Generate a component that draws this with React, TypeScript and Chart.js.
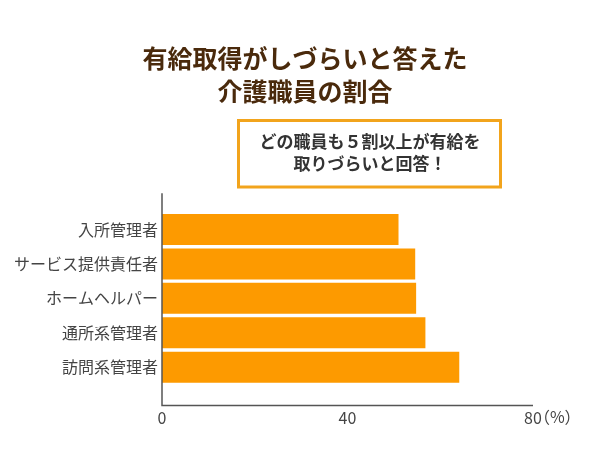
import React, { useEffect, useRef } from "react";
import { Chart, registerables } from "chart.js";

Chart.register(...registerables);

const titleLines = ["有給取得がしづらいと答えた", "介護職員の割合"];
const noteLines = ["どの職員も５割以上が有給を", "取りづらいと回答！"];
const categories = ["入所管理者", "サービス提供責任者", "ホームヘルパー", "通所系管理者", "訪問系管理者"];
const values = [51.0, 54.6, 54.8, 56.8, 64.1];
const xTicks = [0, 40, 80];
const unitLabel = "（%）";

const FONT = "'Noto Sans CJK JP', 'Noto Sans', sans-serif";

const decorPlugin = {
  id: "decor",
  afterDraw(chart: any) {
    const ctx = chart.ctx;
    const area = chart.chartArea;
    const xs = chart.scales.x;
    const x0 = xs.getPixelForValue(0);
    const x80 = xs.getPixelForValue(80);
    const yTop = area.top - 19;
    const yBot = area.bottom + 21;
    ctx.save();
    // axes
    ctx.strokeStyle = "#555555";
    ctx.lineWidth = 1.5;
    ctx.beginPath();
    ctx.moveTo(x0, yTop);
    ctx.lineTo(x0, yBot);
    ctx.lineTo(x80, yBot);
    ctx.stroke();
    // unit label
    ctx.font = `16px ${FONT}`;
    ctx.fillStyle = "#444444";
    ctx.textAlign = "left";
    ctx.textBaseline = "middle";
    const w80 = ctx.measureText("80").width;
    ctx.fillText(unitLabel, x80 + w80 / 2 - 8, yBot + 12);
    // title
    ctx.font = `bold 25px ${FONT}`;
    ctx.fillStyle = "#4a2a0c";
    ctx.textAlign = "center";
    ctx.fillText(titleLines[0], 305, 58);
    ctx.fillText(titleLines[1], 305, 91);
    // note box
    ctx.strokeStyle = "#f2a41c";
    ctx.lineWidth = 3;
    ctx.strokeRect(238.5, 120.5, 262, 66.5);
    ctx.font = `bold 17px ${FONT}`;
    ctx.fillStyle = "#333333";
    ctx.fillText(noteLines[0], 370, 142);
    ctx.fillText(noteLines[1], 370, 164);
    ctx.restore();
  },
};

export default function App() {
  const ref = useRef<HTMLCanvasElement | null>(null);
  useEffect(() => {
    document.body.style.margin = "0";
    const chart = new Chart(ref.current as HTMLCanvasElement, {
      type: "bar",
      data: {
        labels: categories,
        datasets: [
          {
            data: values,
            backgroundColor: "#fd9a00",
            barPercentage: 0.9,
            categoryPercentage: 1,
          },
        ],
      },
      options: {
        indexAxis: "y",
        animation: false,
        responsive: false,
        devicePixelRatio: 1,
        layout: { padding: { top: 212.3, left: 0, right: 67, bottom: 0 } },
        plugins: { legend: { display: false }, tooltip: { enabled: false }, title: { display: false } },
        scales: {
          x: {
            min: 0,
            max: 80,
            afterFit: (s: any) => {
              s.height = 450 - 384.4;
            },
            afterBuildTicks: (s: any) => {
              s.ticks = xTicks.map((v) => ({ value: v }));
            },
            grid: { display: false },
            border: { display: false },
            ticks: {
              padding: 16,
              color: "#444444",
              font: { family: FONT, size: 16 },
              maxRotation: 0,
            },
          },
          y: {
            afterFit: (s: any) => {
              s.width = 162;
            },
            grid: { display: false },
            border: { display: false },
            ticks: {
              padding: -4,
              color: "#444444",
              font: { family: FONT, size: 16 },
            },
          },
        },
      },
      plugins: [decorPlugin],
    } as any);
    return () => chart.destroy();
  }, []);
  return (
    <div style={{ width: 600, height: 450 }}>
      <canvas ref={ref} width={600} height={450} style={{ display: "block" }} />
    </div>
  );
}
